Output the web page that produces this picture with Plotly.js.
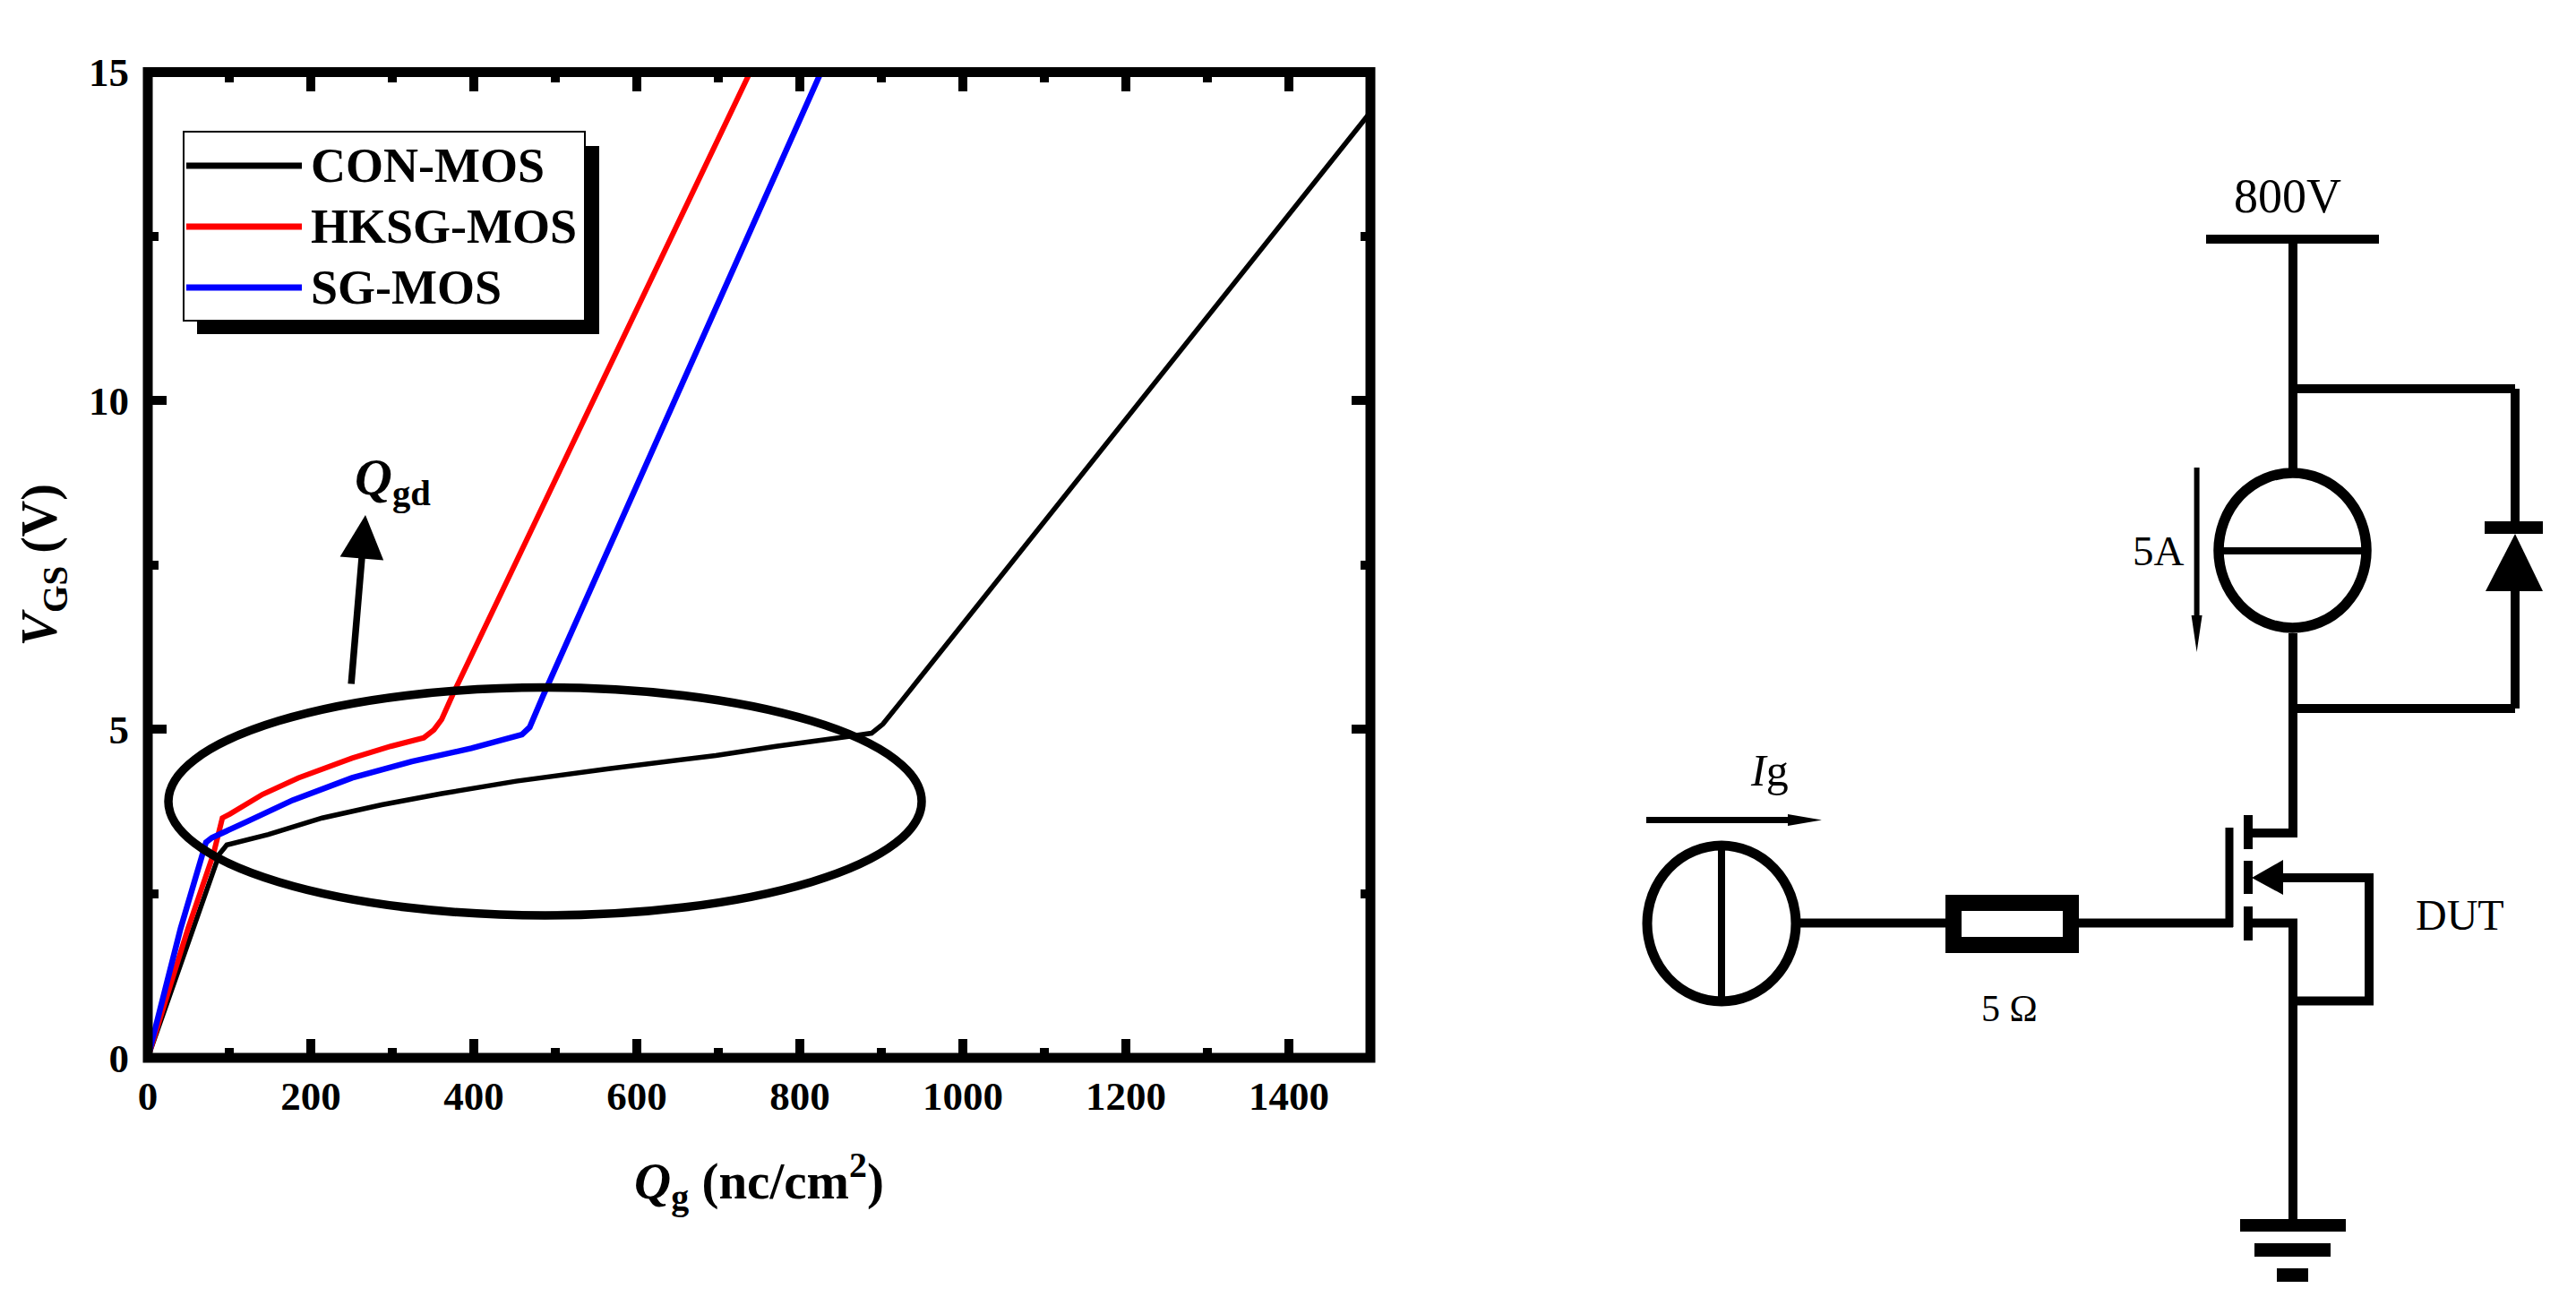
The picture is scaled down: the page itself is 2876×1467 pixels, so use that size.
<!DOCTYPE html>
<html>
<head>
<meta charset="utf-8">
<script src="https://cdn.plot.ly/plotly-3.0.1.min.js"></script>
<style>html,body{margin:0;padding:0;background:#fff}</style>
</head>
<body>
<div id="chart" style="width:2876px;height:1467px"></div>
<script>
// values
var conQ = [0, 56.7, 87.8, 97, 148, 214, 287, 360.5, 452, 565.5, 697, 770.5, 843.6, 865.6, 888, 902, 924, 1500];
var conV = [0, 1.97, 3.10, 3.24, 3.40, 3.65, 3.85, 4.02, 4.21, 4.40, 4.60, 4.74, 4.85, 4.90, 4.94, 5.08, 5.42, 14.39];
var hksgQ = [0, 49.4, 80.5, 87.8, 91.5, 100.7, 141, 184.8, 250.7, 298, 338.6, 351, 360.5, 375, 739];
var hksgV = [0, 1.97, 3.10, 3.46, 3.65, 3.71, 4.01, 4.26, 4.56, 4.74, 4.87, 4.99, 5.15, 5.55, 15];
var sgQ = [0, 40.3, 71.4, 78.7, 122.6, 177.6, 250.7, 324, 397, 459, 468.5, 485, 826];
var sgV = [0, 1.97, 3.28, 3.35, 3.60, 3.92, 4.26, 4.51, 4.71, 4.92, 5.03, 5.51, 15];
var names = ['CON-MOS', 'HKSG-MOS', 'SG-MOS'];
var colors = ['#000000', '#ff0000', '#0000ff'];
var widths = [5.5, 6, 6.5];

var serif = 'Liberation Serif';
var W = 2876, H = 1467;

function curve(i, x, y) {
  return {x: x, y: y, name: names[i], mode: 'lines', type: 'scatter',
    line: {color: colors[i], width: widths[i]}};
}

var data = [curve(0, conQ, conV), curve(1, hksgQ, hksgV), curve(2, sgQ, sgV),
  // keeps the page-wide helper axes alive, schematic is placed on them in pixels
  {x: [0], y: [0], xaxis: 'x2', yaxis: 'y2', mode: 'none', hoverinfo: 'skip'}];

// schematic, [x0, y0, x1, y1, width]
var wires = [
  [2463, 267, 2656, 267, 10], [2560, 267, 2560, 523, 10], [2560, 434, 2808, 434, 10],
  [2808, 434, 2808, 585, 10], [2808, 655, 2808, 791, 10], [2808, 791, 2560, 791, 10],
  [2560, 707, 2560, 935, 10], [2514, 930, 2565, 930, 10],
  [2510, 910, 2510, 948, 10], [2510, 961, 2510, 998, 10], [2510, 1012, 2510, 1050, 10],
  [2489, 924, 2489, 1035, 9], [2010, 1030.5, 2172, 1030.5, 10], [2321, 1030.5, 2493, 1030.5, 10],
  [2514, 1030.5, 2565, 1030.5, 10], [2560, 1026, 2560, 1361, 10],
  [2545, 980, 2650, 980, 10], [2645, 975, 2645, 1122, 10], [2650, 1117.5, 2560, 1117.5, 10],
  [2482, 615, 2638, 615, 8], [1922, 944, 1922, 1118, 8],
  [2774, 589, 2839, 589, 14],
  [2501, 1368, 2619, 1368, 14], [2517, 1395.5, 2602, 1395.5, 15], [2542, 1423.5, 2577, 1423.5, 15],
  [1838, 915.5, 2000, 915.5, 7], [2452.6, 522, 2452.6, 695, 6]
];
// [x0, y0, x1, y1, width]
var rings = [[2477, 528, 2642, 701, 11.5], [1839, 944, 2005, 1118, 11], [188, 767.5, 1029, 1022, 9.5]];
var heads = [
  'M2808 596 L2775 660 L2839 660 Z',
  'M2514 980 L2549 960 L2549 999 Z',
  'M2034 915.5 L1996 909 L1996 922 Z',
  'M2452.6 728 L2446.6 687 L2458.6 687 Z'
];

function px(s) {
  s.xref = 'x2';
  s.yref = 'y2';
  return s;
}

var shapes = [];
wires.forEach(function (w) {
  shapes.push(px({type: 'line', x0: w[0], y0: w[1], x1: w[2], y1: w[3], line: {color: '#000', width: w[4]}}));
});
rings.forEach(function (r) {
  shapes.push(px({type: 'circle', x0: r[0], y0: r[1], x1: r[2], y1: r[3], line: {color: '#000', width: r[4]}}));
});
heads.forEach(function (p) {
  shapes.push(px({type: 'path', path: p, fillcolor: '#000', line: {width: 0}}));
});
// resistor
shapes.push(px({type: 'rect', x0: 2181, y0: 1008, x1: 2312, y1: 1055, line: {color: '#000', width: 18}}));
// plot frame
shapes.push(px({type: 'rect', x0: 165, y0: 80.5, x1: 1530, y1: 1181, line: {color: '#000', width: 11}}));
// legend box and its drop shadow
shapes.push(px({type: 'rect', x0: 220, y0: 163, x1: 669, y1: 373, fillcolor: '#000', line: {width: 0}}));
shapes.push(px({type: 'rect', x0: 205, y0: 147, x1: 653, y1: 358, fillcolor: '#fff', line: {color: '#000', width: 2}}));

function label(text, x, y, size) {
  return {text: text, x: x, y: y, xref: 'x2', yref: 'y2', showarrow: false,
    xanchor: 'center', yanchor: 'middle', font: {family: serif, size: size, color: '#000'}};
}

var annotations = [
  label('800V', 2554, 219, 54),
  label('5A', 2410, 615, 47),
  label('<i>I</i>g', 1975, 860, 50),
  label('5 Ω', 2243, 1126, 42),
  label('DUT', 2746, 1021, 48),
  label('<b><i>Q</i><sub>gd</sub></b>', 438, 536, 58),
  {x: 408, y: 575, ax: 392, ay: 765, xref: 'x2', yref: 'y2', axref: 'x2', ayref: 'y2', text: '',
    showarrow: true, arrowhead: 2, arrowsize: 1.3, arrowwidth: 7.5, arrowcolor: '#000'}
];

// legend rows
var rowY = [185, 253, 321];
names.forEach(function (name, i) {
  shapes.push(px({type: 'line', x0: 208, y0: rowY[i], x1: 337, y1: rowY[i],
    line: {color: colors[i], width: 7}}));
  var a = label('<b>' + name + '</b>', 345, rowY[i], 54);
  a.xanchor = 'left';
  annotations.push(a);
});

function axisCommon(minorStep) {
  return {
    showline: false, showgrid: false, zeroline: false, mirror: 'allticks',
    ticks: 'inside', ticklen: 21, tickwidth: 10, tickcolor: '#000',
    minor: {ticks: 'inside', dtick: minorStep, ticklen: 11.5, tickwidth: 10, tickcolor: '#000', showgrid: false},
    tickfont: {family: serif, size: 45, color: '#000', weight: 'bold'},
    fixedrange: true
  };
}

var xaxis = axisCommon(100);
xaxis.domain = [165 / W, 1530 / W];
xaxis.range = [0, 1500];
xaxis.dtick = 200;
xaxis.ticklabelstandoff = 12;
xaxis.title = {text: '<b><i>Q</i><sub>g</sub> (nc/cm<sup>2</sup>)</b>', standoff: 50,
  font: {family: serif, size: 57, color: '#000'}};

var yaxis = axisCommon(2.5);
yaxis.domain = [1 - 1181 / H, 1 - 80.5 / H];
yaxis.range = [0, 15];
yaxis.dtick = 5;
yaxis.ticklabelstandoff = 20;
yaxis.title = {text: '<b><i>V</i><sub>GS</sub> (V)</b>', standoff: 17,
  font: {family: serif, size: 56, color: '#000'}};

var layout = {
  width: W, height: H,
  margin: {l: 0, r: 0, t: 0, b: 0},
  paper_bgcolor: '#fff', plot_bgcolor: 'rgba(0,0,0,0)',
  showlegend: false,
  xaxis: xaxis, yaxis: yaxis,
  xaxis2: {domain: [0, 1], range: [0, W], visible: false, anchor: 'y2', fixedrange: true},
  yaxis2: {domain: [0, 1], range: [H, 0], visible: false, anchor: 'x2', fixedrange: true},
  shapes: shapes, annotations: annotations
};

Plotly.newPlot('chart', data, layout, {displayModeBar: false});
</script>
</body>
</html>
